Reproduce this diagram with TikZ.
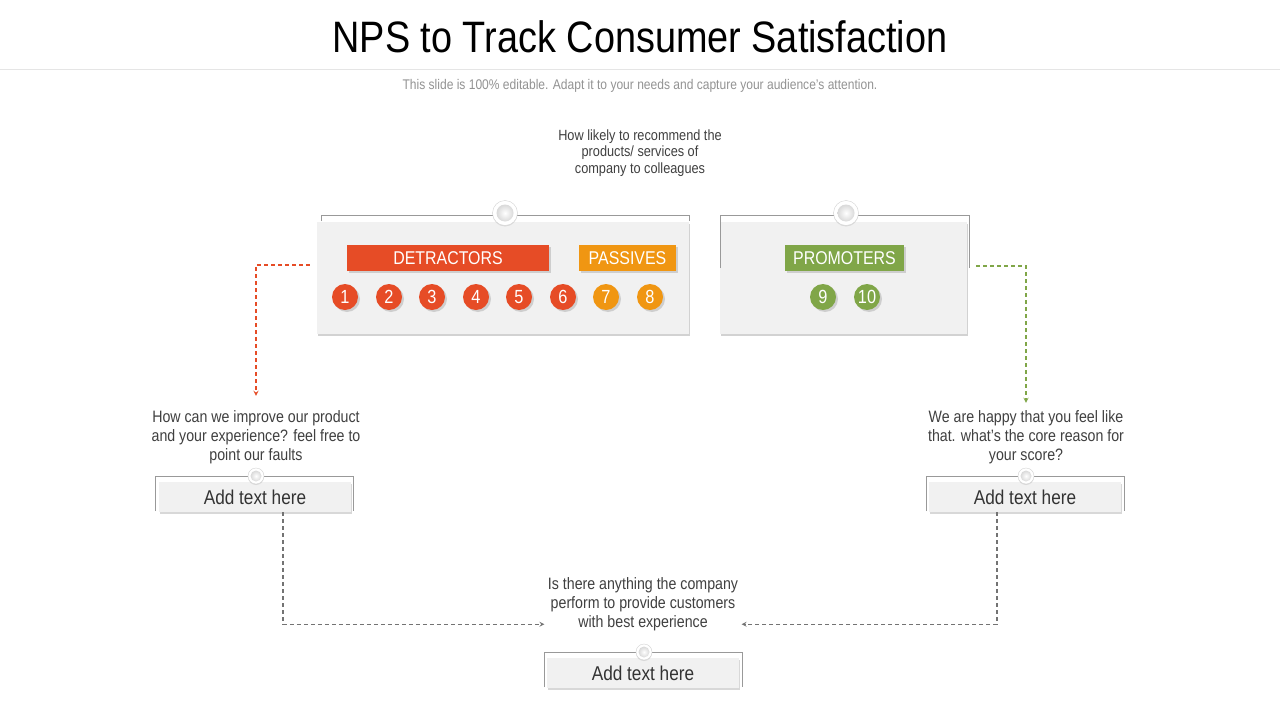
\documentclass[tikz,border=0pt]{standalone}
\usepackage{fontspec}
\setmainfont{Liberation Sans}[FakeStretch=0.86]
\usepackage{tikz}
\usetikzlibrary{shapes,arrows,shadows}

\definecolor{detred}{RGB}{230,76,38}
\definecolor{passorange}{RGB}{240,150,18}
\definecolor{promgreen}{RGB}{128,166,72}
\definecolor{panelgray}{RGB}{241,241,241}
\definecolor{asktext}{RGB}{64,64,64}

\tikzset{
  panel/.style={fill=panelgray, inner sep=0pt, drop shadow={opacity=0.35, shadow xshift=1pt, shadow yshift=-2pt}},
  tag/.style={text=white, inner sep=0pt, minimum height=26pt, font=\fontsize{18.5}{18.5}\selectfont, drop shadow={opacity=0.3, shadow xshift=2pt, shadow yshift=-2pt}},
  score/.style={circle, inner sep=0pt, minimum size=26pt, text=white, font=\fontsize{19}{19}\selectfont, drop shadow={opacity=0.3, shadow xshift=2pt, shadow yshift=-2pt}},
  knob/.style={circle, inner sep=0pt, fill=white, draw=gray!35, drop shadow={opacity=0.2, shadow xshift=0pt, shadow yshift=-1pt}},
  knobin/.style={circle, inner sep=0pt, shading=radial, inner color=white, outer color=gray!30},
  ask/.style={align=center, text=asktext, font=\fontsize{16.5}{19}\selectfont},
  addbox/.style={fill=panelgray, inner sep=0pt, minimum width=192pt, minimum height=30pt, text=asktext!80!black, font=\fontsize{20}{20}\selectfont, drop shadow={opacity=0.3, shadow xshift=1pt, shadow yshift=-2pt}},
  bracket/.style={draw=gray!80, line width=0.8pt},
  flow/.style={dash pattern=on 4pt off 3pt, line width=1.2pt, ->, >=stealth}
}

\begin{document}
\begin{tikzpicture}[x=1pt, y=-1pt]
\useasboundingbox (0,0) rectangle (1280,720);
\fill[white] (0,0) rectangle (1280,720);
%-------->title<--------------
\node (title) at (640,37) {\fontsize{44}{44}\selectfont NPS to Track Consumer Satisfaction};
\draw[gray!20] (0,69) -- (1280,69);
\node[text=gray!85] (sub) at (640,86) {\fontsize{14}{16}\selectfont This slide is 100\% editable. Adapt it to your needs and capture your audience's attention.};
\node[ask, font=\fontsize{14.8}{16.5}\selectfont] (topq) at (640,153) {How likely to recommend the\\products/ services of\\company to colleagues};

%-------->panels<--------------
\node[panel, minimum width=372pt, minimum height=112pt] (detpanel) at (503,278) {};
\node[panel, minimum width=247pt, minimum height=112pt] (prompanel) at (843.5,278) {};
\draw[bracket] (321,221) |- (689,215) -- (689,221);
\draw[bracket] (720,268) |- (969,215) -- (969,268);
\node[knob, minimum size=25pt] (detknob) at (505,213) {};
\node[knobin, minimum size=17pt] at (detknob) {};
\node[knob, minimum size=25pt] (promknob) at (846,213) {};
\node[knobin, minimum size=17pt] at (promknob) {};

%-------->tags<--------------
\node[tag, fill=detred, minimum width=202pt] (dettag) at (448,258) {DETRACTORS};
\node[tag, fill=passorange, minimum width=97pt] (passtag) at (627.5,258) {PASSIVES};
\node[tag, fill=promgreen, minimum width=119pt] (promtag) at (844.5,258) {PROMOTERS};

%-------->scores<--------------
\foreach \n/\x in {1/345,2/389,3/432,4/476,5/519,6/563}
  \node[score, fill=detred] (s\n) at (\x,297) {\n};
\foreach \n/\x in {7/606,8/650}
  \node[score, fill=passorange] (s\n) at (\x,297) {\n};
\foreach \n/\x in {9/823,10/867}
  \node[score, fill=promgreen] (s\n) at (\x,297) {\n};

%-------->questions<--------------
\node[ask] (improveq) at (256,437) {How can we improve our product\\and your experience? feel free to\\point our faults};
\node[ask] (happyq) at (1026,437) {We are happy that you feel like\\that. what's the core reason for\\your score?};
\node[ask] (bottomq) at (643,604) {Is there anything the company\\perform to provide customers\\with best experience};

%-------->add text boxes<--------------
\draw[bracket] (155,511) |- (353,476) -- (353,511);
\draw[bracket] (926,511) |- (1124,476) -- (1124,511);
\draw[bracket] (544,687) |- (742,652) -- (742,687);
\node[addbox] (addleft) at (255,497) {Add text here};
\node[addbox] (addright) at (1025,497) {Add text here};
\node[addbox] (addbottom) at (643,673) {Add text here};
\foreach \k/\x/\y in {kl/256/476, kr/1026/476, kb/644/652}{
  \node[knob, minimum size=16pt] (\k) at (\x,\y) {};
  \node[knobin, minimum size=11pt] at (\k) {};
}

%-------->connectors<--------------
\draw[flow, detred] ([xshift=-7pt,yshift=13pt]detpanel.west) -| ([yshift=11pt]improveq.north);
\draw[flow, promgreen] ([xshift=9pt,yshift=12pt]prompanel.east) -| ([yshift=4pt]happyq.north);
\draw[flow, gray!110] ([xshift=28pt]addleft.south) |- ([yshift=10pt]bottomq.south west);
\draw[flow, gray!110] ([xshift=-28pt]addright.south) |- ([yshift=10pt]bottomq.south east);
\end{tikzpicture}
\end{document}
